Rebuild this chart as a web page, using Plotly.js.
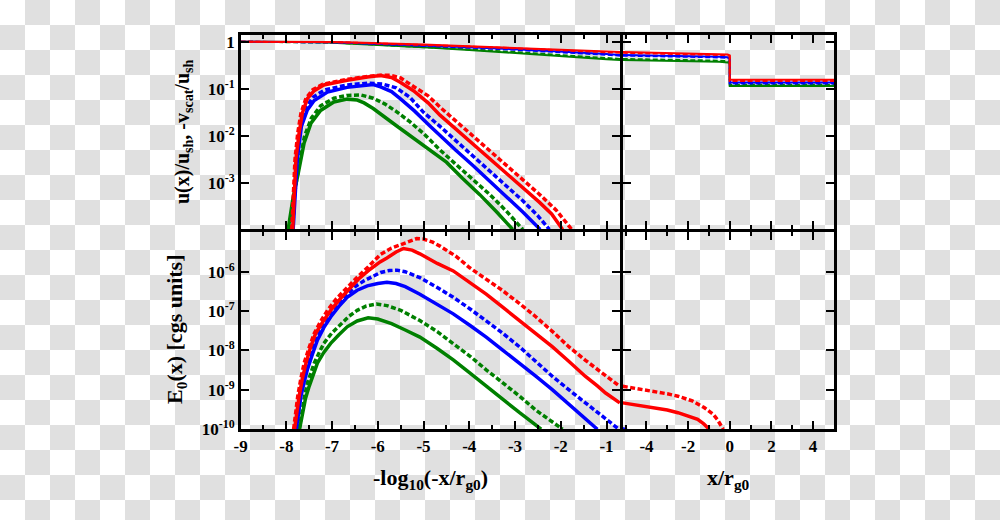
<!DOCTYPE html>
<html>
<head>
<meta charset="utf-8">
<script src="https://cdn.plot.ly/plotly-3.0.1.min.js"></script>
<style>
html, body { margin: 0; padding: 0; }
body {
  width: 1000px; height: 520px; overflow: hidden;
  background: repeating-conic-gradient(#e0e0e0 0 25%, #ffffff 0 50%) 0 0 / 50px 50px;
}
#chart { width: 1000px; height: 520px; }
</style>
</head>
<body>
<div id="chart"></div>
<script>
// ---------- DATA (y values are log10 of the plotted quantity) ----------
// Top-left panel: u(x)/u_sh (near 1)
const uX = [-9, -8, -7.5, -7, -6.5, -6, -5.5, -5, -4, -3, -2, -1, -0.7];
const uRedSolidLog   = [0, 0, -0.002, -0.008, -0.018, -0.03, -0.045, -0.06, -0.095, -0.13, -0.168, -0.205, -0.22];
const uRedDashLog    = [0, 0, -0.002, -0.009, -0.02, -0.034, -0.05, -0.066, -0.103, -0.14, -0.179, -0.219, -0.235];
const uBlueSolidLog  = [0, 0, -0.003, -0.012, -0.025, -0.041, -0.058, -0.076, -0.118, -0.16, -0.205, -0.262, -0.28];
const uBlueDashLog   = [0, 0, -0.003, -0.013, -0.027, -0.045, -0.063, -0.082, -0.126, -0.171, -0.218, -0.277, -0.295];
const uGreenDashLog  = [0, -0.002, -0.006, -0.019, -0.039, -0.061, -0.085, -0.11, -0.163, -0.22, -0.28, -0.345, -0.365];
const uGreenSolidLog = [0, -0.002, -0.007, -0.021, -0.042, -0.066, -0.092, -0.118, -0.175, -0.235, -0.3, -0.37, -0.39];

// Top-right panel: u(x)/u_sh across the shock
const uRX = [-5.14, -4, -3, -2, -1, -0.5, -0.1, 0, 0, 5.03];
const uRRedSolidLog   = [-0.22, -0.228, -0.236, -0.244, -0.252, -0.258, -0.27, -0.29, -0.81, -0.81];
const uRRedDashLog    = [-0.235, -0.243, -0.251, -0.259, -0.267, -0.273, -0.285, -0.305, -0.835, -0.835];
const uRBlueSolidLog  = [-0.28, -0.287, -0.295, -0.303, -0.312, -0.318, -0.33, -0.35, -0.865, -0.865];
const uRBlueDashLog   = [-0.295, -0.302, -0.31, -0.318, -0.327, -0.333, -0.345, -0.365, -0.885, -0.885];
const uRGreenDashLog  = [-0.365, -0.372, -0.38, -0.388, -0.396, -0.402, -0.414, -0.435, -0.915, -0.915];
const uRGreenSolidLog = [-0.39, -0.397, -0.405, -0.413, -0.421, -0.427, -0.44, -0.46, -0.94, -0.94];

// Top-left panel: -v_scat/u_sh
const vRedSolidX   = [-7.86, -7.83, -7.79, -7.72, -7.65, -7.54, -7.39, -7.18, -6.9, -6.67, -6.23, -5.94, -5.7, -5.51, -5.22, -4.9, -4.64, -4.3, -3.92, -3.55, -3.19, -2.83, -2.47, -2.2, -1.96];
const vRedSolidLog = [-3.99, -3.2, -2.5, -1.94, -1.52, -1.21, -1.04, -0.92, -0.86, -0.82, -0.75, -0.72, -0.76, -0.86, -1.04, -1.3, -1.56, -1.85, -2.17, -2.48, -2.79, -3.1, -3.41, -3.66, -3.99];
const vRedDashX    = [-7.88, -7.85, -7.81, -7.75, -7.68, -7.57, -7.42, -7.2, -6.67, -6.23, -5.94, -5.73, -5.5, -5.22, -4.9, -4.64, -4.3, -3.92, -3.55, -3.19, -2.83, -2.47, -2.1, -1.76];
const vRedDashLog  = [-3.99, -3.2, -2.5, -1.94, -1.52, -1.2, -1.02, -0.9, -0.8, -0.74, -0.71, -0.71, -0.77, -0.95, -1.15, -1.39, -1.68, -1.99, -2.3, -2.61, -2.92, -3.24, -3.58, -3.99];
const vBlueSolidX   = [-7.85, -7.81, -7.76, -7.67, -7.54, -7.39, -7.1, -6.67, -6.3, -6.1, -5.94, -5.7, -5.51, -5.2, -4.86, -4.64, -4.3, -3.92, -3.55, -3.19, -2.83, -2.45];
const vBlueSolidLog = [-3.99, -3.2, -2.5, -1.8, -1.45, -1.25, -1.07, -0.97, -0.92, -0.91, -0.96, -1.06, -1.21, -1.47, -1.79, -2.0, -2.3, -2.63, -2.96, -3.28, -3.62, -3.99];
const vBlueDashX    = [-7.86, -7.82, -7.78, -7.7, -7.57, -7.42, -7.15, -6.67, -6.23, -5.9, -5.6, -5.3, -5.0, -4.64, -4.3, -3.92, -3.55, -3.19, -2.83, -2.5, -2.25];
const vBlueDashLog  = [-3.99, -3.2, -2.5, -1.8, -1.4, -1.18, -1.02, -0.92, -0.88, -0.9, -0.98, -1.18, -1.5, -1.8, -2.1, -2.43, -2.75, -3.06, -3.38, -3.7, -3.99];
const vGreenSolidX   = [-7.96, -7.85, -7.75, -7.61, -7.46, -7.25, -6.96, -6.67, -6.45, -6.3, -6.1, -5.94, -5.85, -5.6, -5.22, -4.86, -4.5, -4.15, -3.77, -3.4, -3.05];
const vGreenSolidLog = [-3.99, -3.3, -2.85, -2.15, -1.73, -1.46, -1.28, -1.22, -1.24, -1.3, -1.42, -1.55, -1.6, -1.78, -2.05, -2.3, -2.56, -2.9, -3.25, -3.62, -3.99];
const vGreenDashX    = [-7.94, -7.82, -7.72, -7.6, -7.45, -7.25, -6.96, -6.67, -6.37, -6.1, -5.85, -5.6, -5.3, -5.0, -4.64, -4.3, -3.92, -3.55, -3.19, -2.83];
const vGreenDashLog  = [-3.99, -3.2, -2.6, -2.0, -1.62, -1.36, -1.2, -1.14, -1.13, -1.2, -1.32, -1.48, -1.7, -1.95, -2.3, -2.6, -2.92, -3.25, -3.6, -3.99];

// Bottom-left panel: E0(x) [cgs units]
const eRedDashX   = [-7.84, -7.8, -7.75, -7.68, -7.61, -7.5, -7.39, -7.25, -7.1, -6.9, -6.67, -6.45, -6.23, -5.94, -5.7, -5.51, -5.3, -5.15, -5.0, -4.8, -4.64, -4.3, -3.99, -3.63, -3.27, -2.9, -2.54, -2.18, -1.82, -1.46, -1.1, -0.9, -0.71];
const eRedDashLog = [-10, -9.6, -9.16, -8.7, -8.32, -7.92, -7.57, -7.26, -6.98, -6.68, -6.4, -6.14, -5.9, -5.56, -5.4, -5.31, -5.21, -5.16, -5.17, -5.25, -5.35, -5.6, -5.9, -6.18, -6.48, -6.81, -7.15, -7.52, -7.91, -8.25, -8.58, -8.75, -8.91];
const eRedSolidX   = [-7.82, -7.78, -7.72, -7.65, -7.57, -7.47, -7.36, -7.2, -7.03, -6.8, -6.6, -6.4, -6.16, -5.95, -5.8, -5.6, -5.44, -5.25, -5.08, -4.93, -4.7, -4.35, -3.99, -3.63, -3.27, -2.9, -2.54, -2.18, -1.82, -1.46, -1.2, -1.02, -0.71];
const eRedSolidLog = [-10, -9.6, -9.16, -8.72, -8.32, -7.92, -7.57, -7.27, -6.98, -6.66, -6.4, -6.16, -5.93, -5.75, -5.65, -5.5, -5.41, -5.45, -5.545, -5.65, -5.79, -5.98, -6.27, -6.57, -6.9, -7.24, -7.57, -7.91, -8.28, -8.66, -8.9, -9.08, -9.33];
const eBlueDashX   = [-7.8, -7.76, -7.68, -7.61, -7.54, -7.43, -7.32, -7.18, -7.03, -6.85, -6.67, -6.5, -6.3, -6.1, -5.94, -5.75, -5.58, -5.4, -5.08, -4.7, -4.35, -3.99, -3.63, -3.27, -2.9, -2.54, -2.18, -1.82, -1.46, -1.1, -0.73];
const eBlueDashLog = [-10, -9.6, -9.0, -8.62, -8.32, -7.96, -7.66, -7.34, -7.07, -6.8, -6.57, -6.38, -6.23, -6.1, -6.02, -5.97, -5.96, -6.0, -6.15, -6.4, -6.65, -6.94, -7.24, -7.56, -7.91, -8.28, -8.66, -9.0, -9.33, -9.66, -10.0];
const eBlueSolidX   = [-7.78, -7.74, -7.68, -7.61, -7.54, -7.43, -7.32, -7.18, -7.03, -6.85, -6.67, -6.45, -6.23, -6.0, -5.8, -5.6, -5.4, -5.08, -4.7, -4.35, -3.99, -3.63, -3.27, -2.9, -2.54, -2.18, -1.82, -1.5, -1.2];
const eBlueSolidLog = [-10, -9.6, -9.16, -8.8, -8.49, -8.1, -7.74, -7.42, -7.15, -6.88, -6.65, -6.47, -6.36, -6.3, -6.27, -6.3, -6.38, -6.57, -6.82, -7.07, -7.36, -7.66, -7.99, -8.32, -8.66, -9.0, -9.37, -9.7, -10.0];
const eGreenDashX   = [-7.72, -7.68, -7.61, -7.54, -7.46, -7.39, -7.28, -7.18, -7.0, -6.81, -6.63, -6.45, -6.25, -6.03, -5.8, -5.5, -5.08, -4.7, -4.35, -3.99, -3.63, -3.27, -2.9, -2.54, -2.2, -1.96];
const eGreenDashLog = [-10, -9.67, -9.22, -8.83, -8.55, -8.32, -8.05, -7.82, -7.55, -7.32, -7.13, -6.98, -6.87, -6.82, -6.86, -6.98, -7.24, -7.52, -7.82, -8.14, -8.49, -8.82, -9.16, -9.52, -9.8, -10];
const eGreenSolidX   = [-7.71, -7.65, -7.58, -7.5, -7.41, -7.32, -7.18, -7.03, -6.85, -6.67, -6.45, -6.21, -6.0, -5.7, -5.4, -5.08, -4.7, -4.35, -3.99, -3.63, -3.27, -2.9, -2.65, -2.43];
const eGreenSolidLog = [-10, -9.58, -9.22, -8.91, -8.6, -8.32, -8.05, -7.82, -7.6, -7.4, -7.25, -7.17, -7.2, -7.32, -7.48, -7.66, -7.95, -8.24, -8.57, -8.91, -9.24, -9.58, -9.8, -10];

// Bottom-right panel: E0(x)
const eRRedDashX   = [-5.14, -4.07, -3.0, -2.49, -1.8, -1.23, -0.8, -0.6, -0.45, -0.31];
const eRRedDashLog = [-8.91, -9.0, -9.1, -9.16, -9.28, -9.45, -9.62, -9.75, -9.86, -10.0];
const eRRedSolidX   = [-5.14, -4.07, -3.0, -2.49, -2.0, -1.54, -1.25, -0.99];
const eRRedSolidLog = [-9.33, -9.41, -9.51, -9.58, -9.66, -9.75, -9.86, -10.0];
const eRBlueDashX   = [-5.14, -4.95];
const eRBlueDashLog = [-9.985, -10.02];

// Tick labels
const xLeftTicks  = [-9, -8, -7, -6, -5, -4, -3, -2, -1];
const xLeftLabels = ['-9', '-8', '-7', '-6', '-5', '-4', '-3', '-2', '-1'];
const xRightTicks  = [-4, -2, 0, 2, 4];
const xRightLabels = ['-4', '-2', '0', '2', '4'];
const yTopTickVals = [1, 0.1, 0.01, 0.001];
const yTopTickText = ['1', '10<sup>-1</sup>', '10<sup>-2</sup>', '10<sup>-3</sup>'];
const yBotTickVals = [1e-6, 1e-7, 1e-8, 1e-9, 1e-10];
const yBotTickText = ['10<sup>-6</sup>', '10<sup>-7</sup>', '10<sup>-8</sup>', '10<sup>-9</sup>', '10<sup>-10</sup>'];

// ---------- STYLE ----------
const RED = '#ff0000', BLUE = '#0000ff', GREEN = '#008000';
const DASH = '5px,2.5px';
const pow10 = a => a.map(v => Math.pow(10, v));

function tr(x, ylog, color, dashed, width, xa, ya) {
  return {
    x: x, y: pow10(ylog), xaxis: xa, yaxis: ya, type: 'scatter', mode: 'lines',
    line: { color: color, width: width, dash: dashed ? DASH : 'solid' },
    hoverinfo: 'skip', showlegend: false
  };
}

const traces = [
  tr(uX, uGreenSolidLog, GREEN, false, 2, 'x3', 'y3'),
  tr(uX, uGreenDashLog, GREEN, true, 2, 'x3', 'y3'),
  tr(uX, uBlueSolidLog, BLUE, false, 2, 'x3', 'y3'),
  tr(uX, uBlueDashLog, BLUE, true, 2, 'x3', 'y3'),
  tr(uX, uRedSolidLog, RED, false, 2, 'x3', 'y3'),
  tr(uX, uRedDashLog, RED, true, 2, 'x3', 'y3'),
  tr(vGreenSolidX, vGreenSolidLog, GREEN, false, 3.5, 'x3', 'y3'),
  tr(vGreenDashX, vGreenDashLog, GREEN, true, 3.5, 'x3', 'y3'),
  tr(vBlueSolidX, vBlueSolidLog, BLUE, false, 3.5, 'x3', 'y3'),
  tr(vBlueDashX, vBlueDashLog, BLUE, true, 3.5, 'x3', 'y3'),
  tr(vRedSolidX, vRedSolidLog, RED, false, 3.5, 'x3', 'y3'),
  tr(vRedDashX, vRedDashLog, RED, true, 3.5, 'x3', 'y3'),
  tr(uRX, uRGreenSolidLog, GREEN, false, 2, 'x4', 'y4'),
  tr(uRX, uRGreenDashLog, GREEN, true, 2, 'x4', 'y4'),
  tr(uRX, uRBlueSolidLog, BLUE, false, 2, 'x4', 'y4'),
  tr(uRX, uRBlueDashLog, BLUE, true, 2, 'x4', 'y4'),
  tr(uRX, uRRedSolidLog, RED, false, 2, 'x4', 'y4'),
  tr(uRX, uRRedDashLog, RED, true, 2, 'x4', 'y4'),
  tr(eGreenSolidX, eGreenSolidLog, GREEN, false, 3.5, 'x', 'y'),
  tr(eGreenDashX, eGreenDashLog, GREEN, true, 3.5, 'x', 'y'),
  tr(eBlueSolidX, eBlueSolidLog, BLUE, false, 3.5, 'x', 'y'),
  tr(eBlueDashX, eBlueDashLog, BLUE, true, 3.5, 'x', 'y'),
  tr(eRedSolidX, eRedSolidLog, RED, false, 3.5, 'x', 'y'),
  tr(eRedDashX, eRedDashLog, RED, true, 3.5, 'x', 'y'),
  tr(eRBlueDashX, eRBlueDashLog, BLUE, true, 3.5, 'x2', 'y2'),
  tr(eRRedSolidX, eRRedSolidLog, RED, false, 3.5, 'x2', 'y2'),
  tr(eRRedDashX, eRRedDashLog, RED, true, 3.5, 'x2', 'y2')
];

const FONT = 'Liberation Serif, Times New Roman, serif';
const tickFont = { family: FONT, size: 17, color: '#000', weight: 'bold' };
const titleFont = { family: FONT, size: 20, color: '#000', weight: 'bold' };
const titleFontL = { family: FONT, size: 22, color: '#000', weight: 'bold' };

const W = 1000, H = 520, LW = 2.5, HL = LW / 2;
// axis-line centre positions in pixels (lines are drawn just outside each domain)
const xLeftLine = 239.3, xSplitLine = 621.5, xRightLine = 835.7;
const yTopLine = 33.3, ySplitLine = 230.7, yBotLine = 430.5;
const dLeft  = [(xLeftLine + HL) / W, (xSplitLine - HL) / W];
const dRight = [(xSplitLine + HL) / W, (xRightLine - HL) / W];
const dTop   = [1 - (ySplitLine - HL) / H, 1 - (yTopLine + HL) / H];
const dBot   = [1 - (yBotLine - HL) / H, 1 - (ySplitLine + HL) / H];

function baseAxis(extra) {
  return Object.assign({
    showline: true, linecolor: '#000', linewidth: LW, mirror: 'allticks',
    ticks: 'inside', ticklen: 8, tickwidth: 2, tickcolor: '#000',
    showgrid: false, zeroline: false, tickfont: tickFont, fixedrange: true
  }, extra);
}
const minorL = { dtick: 0.5, tick0: 0, ticks: 'inside', ticklen: 4, tickwidth: 2, tickcolor: '#000' };
const minorR = { dtick: 1, tick0: 0, ticks: 'inside', ticklen: 4, tickwidth: 2, tickcolor: '#000' };

const layout = {
  width: W, height: H,
  margin: { l: 0, r: 0, t: 0, b: 0, pad: 0 },
  paper_bgcolor: 'rgba(0,0,0,0)', plot_bgcolor: 'rgba(0,0,0,0)',
  showlegend: false,
  xaxis: baseAxis({ domain: dLeft, range: [-9, -0.7], anchor: 'y',
    tickmode: 'array', tickvals: xLeftTicks, ticktext: xLeftLabels, minor: minorL }),
  yaxis: baseAxis({ domain: dBot, type: 'log', range: [-10, -4.99], anchor: 'x',
    tickmode: 'array', tickvals: yBotTickVals, ticktext: yBotTickText }),
  xaxis2: baseAxis({ domain: dRight, range: [-5.14, 5.03], anchor: 'y2',
    tickmode: 'array', tickvals: xRightTicks, ticktext: xRightLabels, minor: minorR }),
  yaxis2: baseAxis({ domain: dBot, type: 'log', range: [-10, -4.99], anchor: 'x2',
    tickmode: 'array', tickvals: yBotTickVals, showticklabels: false }),
  xaxis3: baseAxis({ domain: dLeft, range: [-9, -0.7], anchor: 'y3',
    tickmode: 'array', tickvals: xLeftTicks, showticklabels: false, minor: minorL }),
  yaxis3: baseAxis({ domain: dTop, type: 'log', range: [-3.99, 0.153], anchor: 'x3',
    tickmode: 'array', tickvals: yTopTickVals, ticktext: yTopTickText }),
  xaxis4: baseAxis({ domain: dRight, range: [-5.14, 5.03], anchor: 'y4',
    tickmode: 'array', tickvals: xRightTicks, showticklabels: false, minor: minorR }),
  yaxis4: baseAxis({ domain: dTop, type: 'log', range: [-3.99, 0.153], anchor: 'x4',
    tickmode: 'array', tickvals: yTopTickVals, showticklabels: false }),
  annotations: [
    { text: 'u(x)/u<sub>sh</sub>, -v<sub>scat</sub>/u<sub>sh</sub>', xref: 'paper', yref: 'paper',
      x: 183 / W, y: 1 - 132 / H, xanchor: 'center', yanchor: 'middle',
      textangle: -90, showarrow: false, font: titleFont },
    { text: 'E<sub>0</sub>(x) [cgs units]', xref: 'paper', yref: 'paper',
      x: 176 / W, y: 1 - 329 / H, xanchor: 'center', yanchor: 'middle',
      textangle: -90, showarrow: false, font: titleFontL },
    { text: '-log<sub>10</sub>(-x/r<sub>g0</sub>)', xref: 'paper', yref: 'paper',
      x: 430 / W, y: 1 - 479 / H, xanchor: 'center', yanchor: 'middle',
      showarrow: false, font: titleFontL },
    { text: 'x/r<sub>g0</sub>', xref: 'paper', yref: 'paper',
      x: 728 / W, y: 1 - 479 / H, xanchor: 'center', yanchor: 'middle',
      showarrow: false, font: titleFontL }
  ]
};

Plotly.newPlot('chart', traces, layout, { displayModeBar: false, staticPlot: true });
</script>
</body>
</html>
